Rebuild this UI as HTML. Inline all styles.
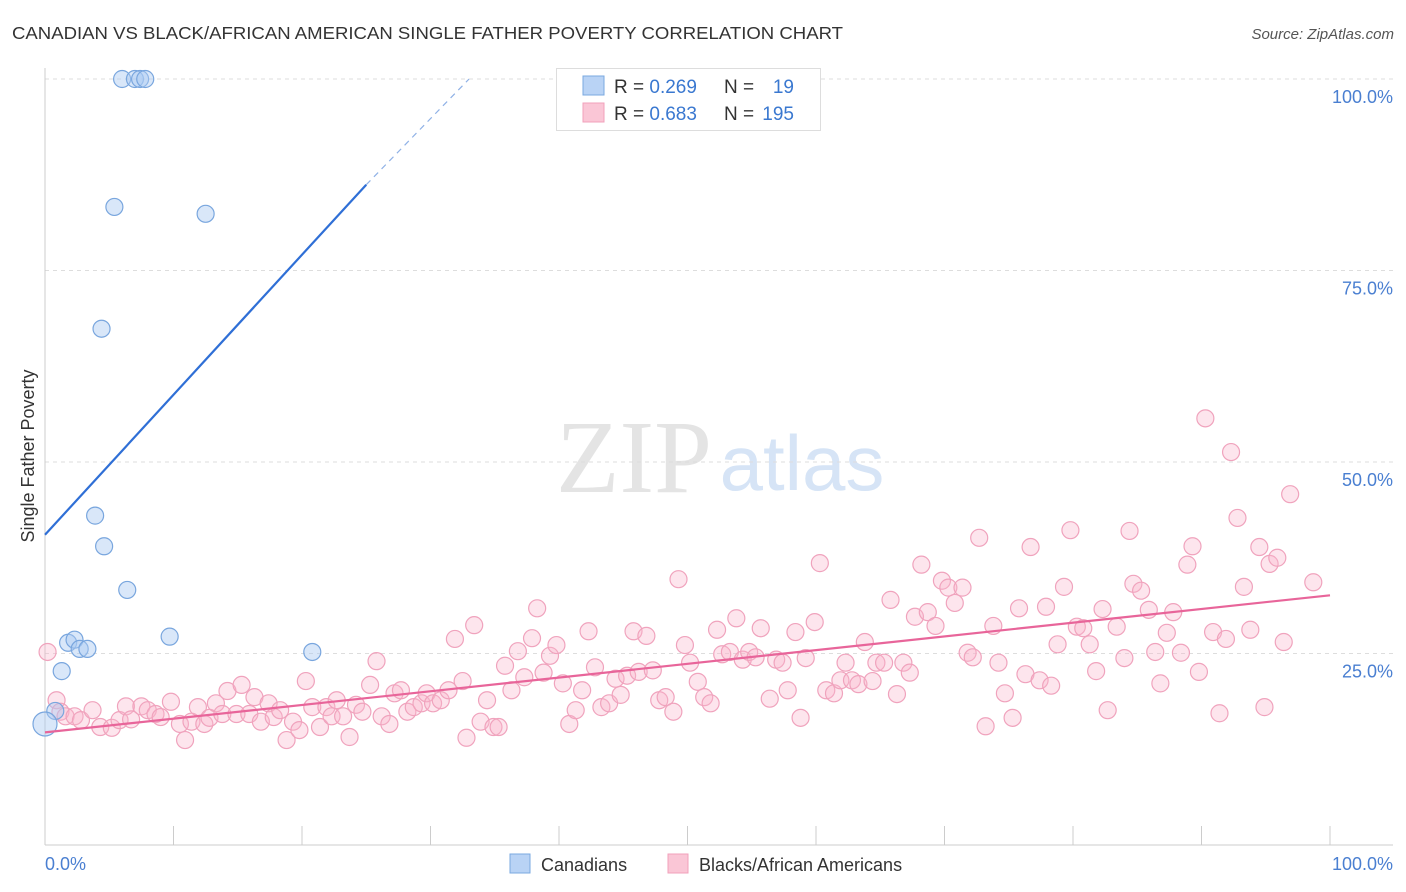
<!DOCTYPE html>
<html><head><meta charset="utf-8"><style>
body{margin:0;background:#fff;font-family:"Liberation Sans",sans-serif}
</style></head><body>
<svg id="c" width="1406" height="892" xmlns="http://www.w3.org/2000/svg" style="display:block">
<text x="12" y="39" font-size="17.5" fill="#333" textLength="831" lengthAdjust="spacingAndGlyphs">CANADIAN VS BLACK/AFRICAN AMERICAN SINGLE FATHER POVERTY CORRELATION CHART</text>
<text x="1394" y="39" font-size="15" fill="#555" font-style="italic" text-anchor="end">Source: ZipAtlas.com</text>
<g>
<text x="634" y="492" font-size="104" fill="#e4e4e4" font-family="Liberation Serif,serif" text-anchor="middle">ZIP</text>
<text x="802" y="490" font-size="78" fill="#d6e4f6" text-anchor="middle">atlas</text>
</g>
<g id="grid"></g><g id="axes"></g><g id="pts"></g><g id="lines"></g>
<g>
<rect x="556.5" y="68.5" width="264" height="62" fill="#fff" stroke="#ddd"/>
<rect x="583" y="76" width="21" height="19" fill="#b9d3f5" stroke="#7aa8e0"/>
<rect x="583" y="103" width="21" height="19" fill="#fac6d6" stroke="#f1a0bb"/>
<text x="614" y="93" font-size="19" fill="#333">R = <tspan fill="#3a78d0">0.269</tspan></text>
<text x="724" y="93" font-size="19" fill="#333">N = </text><text x="794" y="93" font-size="19" fill="#3a78d0" text-anchor="end">19</text>
<text x="614" y="120" font-size="19" fill="#333">R = <tspan fill="#3a78d0">0.683</tspan></text>
<text x="724" y="120" font-size="19" fill="#333">N = </text><text x="794" y="120" font-size="19" fill="#3a78d0" text-anchor="end">195</text>
</g>
<g>
<rect x="510" y="854" width="20" height="19" fill="#b9d3f5" stroke="#7aa8e0"/>
<text x="541" y="871" font-size="18" fill="#333">Canadians</text>
<rect x="668" y="854" width="20" height="19" fill="#fac6d6" stroke="#f1a0bb"/>
<text x="699" y="871" font-size="18" fill="#333">Blacks/African Americans</text>
</g>
<text transform="translate(34,456) rotate(-90)" font-size="18" fill="#333" text-anchor="middle">Single Father Poverty</text>
</svg>
<script>
const yTicks=[25,50,75,100];
const yTickLabels=["25.0%","50.0%","75.0%","100.0%"];
const blueX=[0.8,1.3,1.8,2.3,2.7,3.3,6.0,7.0,7.4,7.8,5.4,12.5,4.4,3.9,4.6,6.4,9.7,20.8,0];
const blueY=[17.5,22.7,26.4,26.8,25.6,25.6,100,100,100,100,83.3,82.4,67.4,43.0,39.0,33.3,27.2,25.2,15.8];
const pinkX=[0.2,0.9,1.2,1.6,2.3,2.8,3.7,4.3,5.2,5.8,6.3,6.7,7.5,8.0,8.6,9.0,9.8,10.5,10.9,11.4,11.9,12.4,12.8,13.3,13.8,14.2,14.9,15.3,15.9,16.3,16.8,17.4,17.8,18.3,18.8,19.3,19.8,20.3,20.8,21.4,21.9,22.3,22.7,23.2,23.7,24.2,24.7,25.3,25.8,26.2,26.8,27.2,27.7,28.2,28.7,29.3,29.7,30.2,30.8,31.4,31.9,32.5,32.8,33.4,33.9,34.4,34.9,35.3,35.8,36.3,36.8,37.3,37.9,38.3,38.8,39.3,39.8,40.3,40.8,41.3,41.8,42.3,42.8,43.3,43.9,44.4,44.8,45.3,45.8,46.2,46.8,47.3,47.8,48.3,48.9,49.3,49.8,50.2,50.8,51.3,51.8,52.3,52.7,53.3,53.8,54.3,54.8,55.3,55.7,56.4,56.9,57.4,57.8,58.4,58.8,59.2,59.9,60.3,60.8,61.4,61.9,62.3,62.8,63.3,63.8,64.4,64.7,65.3,65.8,66.3,66.8,67.3,67.7,68.2,68.7,69.3,69.8,70.3,70.8,71.4,71.8,72.2,72.7,73.2,73.8,74.2,74.7,75.3,75.8,76.3,76.7,77.4,77.9,78.3,78.8,79.3,79.8,80.3,80.8,81.3,81.8,82.3,82.7,83.4,84.0,84.4,84.7,85.3,85.9,86.4,86.8,87.3,87.8,88.4,88.9,89.3,89.8,90.3,90.9,91.4,91.9,92.3,92.8,93.3,93.8,94.5,94.9,95.3,95.9,96.4,96.9,98.7];
const pinkY=[25.2,18.9,17.4,16.8,16.8,16.3,17.6,15.4,15.3,16.3,18.1,16.4,18.1,17.6,17.1,16.7,18.7,15.8,13.7,16.1,18.0,15.8,16.6,18.5,17.1,20.1,17.1,20.9,17.1,19.3,16.1,18.5,16.7,17.6,13.7,16.1,15.0,21.4,18.0,15.4,18.0,16.8,18.9,16.8,14.1,18.3,17.4,20.9,24.0,16.8,15.8,19.8,20.2,17.4,18.0,18.5,19.8,18.5,18.9,20.2,26.9,21.4,14.0,28.7,16.1,18.9,15.4,15.4,23.4,20.2,25.3,21.9,27.0,30.9,22.5,24.7,26.1,21.1,15.8,17.6,20.2,27.9,23.2,18.0,18.5,21.7,19.6,22.1,27.9,22.6,27.3,22.8,18.9,19.3,17.4,34.7,26.1,23.8,21.3,19.3,18.5,28.1,24.9,25.2,29.6,24.2,25.2,24.5,28.3,19.1,24.2,23.8,20.2,27.8,16.6,24.4,29.1,36.8,20.2,19.8,21.5,23.8,21.5,21.0,26.5,21.4,23.8,23.8,32.0,19.7,23.8,22.5,29.8,36.6,30.4,28.6,34.5,33.6,31.6,33.6,25.1,24.5,40.1,15.5,28.6,23.8,19.8,16.6,30.9,22.3,38.9,21.5,31.1,20.8,26.2,33.7,41.1,28.5,28.3,26.2,22.7,30.8,17.6,28.5,24.4,41.0,34.1,33.2,30.7,25.2,21.1,27.7,30.4,25.1,36.6,39.0,22.6,55.7,27.8,17.2,26.9,51.3,42.7,33.7,28.1,38.9,18.0,36.7,37.5,26.5,45.8,34.3];
const blueLine=[0,40.5,25,86.2,33,100];
const pinkLine=[0,14.7,100,32.6];

const NS="http://www.w3.org/2000/svg";
const sx=v=>45+v*12.85, sy=v=>845-v*7.66;
function mk(p,t,a){const e=document.createElementNS(NS,t);for(const k in a)e.setAttribute(k,a[k]);document.getElementById(p).appendChild(e);return e;}
yTicks.forEach((t,i)=>{
 const l=mk('grid','line',{x1:45,x2:1393,y1:sy(t),y2:sy(t),stroke:'#ddd','stroke-dasharray':'4,4'});
 
 
 const tx=mk('grid','text',{x:1393,y:sy(t)+24,'font-size':18,fill:'#4a7fd1','text-anchor':'end'});
 tx.textContent=yTickLabels[i];
 
 
});
const ax=mk('axes','line',{x1:45,x2:1393,y1:845,y2:845,stroke:'#ccc'});


const ay=mk('axes','line',{x1:45,x2:45,y1:68,y2:845,stroke:'#ccc'});


for(let i=0;i<=10;i++){const t=mk('axes','line',{x1:sx(i*10),x2:sx(i*10),y1:826,y2:845,stroke:'#ccc'});
 
 }
const x0=mk('axes','text',{x:45,y:870,'font-size':18,fill:'#4a7fd1'});x0.textContent='0.0%';


const x1=mk('axes','text',{x:1393,y:870,'font-size':18,fill:'#4a7fd1','text-anchor':'end'});x1.textContent='100.0%';


pinkX.forEach((v,i)=>{const c=mk('pts','circle',{cx:sx(v),cy:sy(pinkY[i]),r:8.5,fill:'rgba(250,180,202,0.35)',stroke:'#f0a3bd','stroke-width':1.2});
 
 });
blueX.forEach((v,i)=>{const c=mk('pts','circle',{cx:sx(v),cy:sy(blueY[i]),r:i==18?12:8.5,fill:'rgba(170,202,242,0.45)',stroke:'#79a6de','stroke-width':1.2});
 
 });
const b1=mk('lines','line',{x1:sx(blueLine[0]),y1:sy(blueLine[1]),x2:sx(blueLine[2]),y2:sy(blueLine[3]),stroke:'#2f6fd6','stroke-width':2.2});


const b2=mk('lines','line',{x1:sx(blueLine[2]),y1:sy(blueLine[3]),x2:sx(blueLine[4]),y2:sy(blueLine[5]),stroke:'#8fb1e6','stroke-width':1.2,'stroke-dasharray':'6,5'});


const p1=mk('lines','line',{x1:sx(pinkLine[0]),y1:sy(pinkLine[1]),x2:sx(pinkLine[2]),y2:sy(pinkLine[3]),stroke:'#e8659a','stroke-width':2.2});


</script>
</body></html>
